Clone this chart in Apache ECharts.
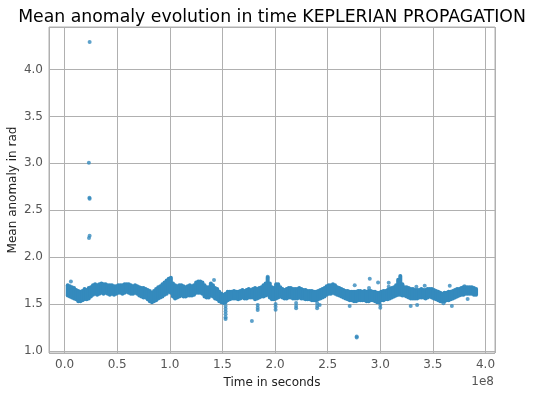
<!DOCTYPE html>
<html>
<head>
<meta charset="utf-8">
<script src="https://cdn.jsdelivr.net/npm/echarts@6/dist/echarts.min.js"></script>
<style>
  html, body { margin: 0; padding: 0; background: #fff; }
  #chart { width: 533px; height: 396px; }
</style>
</head>
<body>
<div id="chart"></div>
<script>
// time in units of 1e8 s, band = spread of mean anomaly (rad) at each time
const bandTime = [
  0.03, 0.05, 0.07, 0.09, 0.11, 0.13, 0.15, 0.17, 0.19, 0.21, 0.23, 0.25, 0.27, 0.29, 0.31, 0.33, 0.35, 0.37, 0.39,
  0.41, 0.43, 0.45, 0.47, 0.49, 0.51, 0.53, 0.55, 0.57, 0.59, 0.61, 0.63, 0.65, 0.67, 0.69, 0.71, 0.73, 0.75, 0.77, 0.79,
  0.81, 0.83, 0.85, 0.87, 0.89, 0.91, 0.93, 0.95, 0.97, 0.99, 1.01, 1.03, 1.05, 1.07, 1.09, 1.11, 1.13, 1.15, 1.17, 1.19,
  1.21, 1.23, 1.25, 1.27, 1.29, 1.31, 1.33, 1.35, 1.37, 1.39, 1.41, 1.43, 1.45, 1.47, 1.49, 1.51, 1.53, 1.55, 1.57, 1.59,
  1.61, 1.63, 1.65, 1.67, 1.69, 1.71, 1.73, 1.75, 1.77, 1.79, 1.81, 1.83, 1.85, 1.87, 1.89, 1.91, 1.93, 1.95, 1.97, 1.99,
  2.01, 2.03, 2.05, 2.07, 2.09, 2.11, 2.13, 2.15, 2.17, 2.19, 2.21, 2.23, 2.25, 2.27, 2.29, 2.31, 2.33, 2.35, 2.37, 2.39,
  2.41, 2.43, 2.45, 2.47, 2.49, 2.51, 2.53, 2.55, 2.57, 2.59, 2.61, 2.63, 2.65, 2.67, 2.69, 2.71, 2.73, 2.75, 2.77, 2.79,
  2.81, 2.83, 2.85, 2.87, 2.89, 2.91, 2.93, 2.95, 2.97, 2.99, 3.01, 3.03, 3.05, 3.07, 3.09, 3.11, 3.13, 3.15, 3.17, 3.19,
  3.21, 3.23, 3.25, 3.27, 3.29, 3.31, 3.33, 3.35, 3.37, 3.39, 3.41, 3.43, 3.45, 3.47, 3.49, 3.51, 3.53, 3.55, 3.57, 3.59,
  3.61, 3.63, 3.65, 3.67, 3.69, 3.71, 3.73, 3.75, 3.77, 3.79, 3.81, 3.83, 3.85, 3.87, 3.89, 3.91
];
const bandLow = [
  1.59, 1.58, 1.57, 1.56, 1.55, 1.53, 1.53, 1.54, 1.55, 1.55, 1.56, 1.58, 1.60, 1.61, 1.60, 1.61, 1.62, 1.61, 1.62,
  1.61, 1.60, 1.61, 1.60, 1.61, 1.62, 1.62, 1.61, 1.62, 1.63, 1.62, 1.61, 1.61, 1.62, 1.61, 1.59, 1.58, 1.57, 1.57, 1.55,
  1.53, 1.52, 1.53, 1.54, 1.56, 1.57, 1.58, 1.60, 1.61, 1.63, 1.62, 1.58, 1.56, 1.57, 1.58, 1.59, 1.58, 1.58, 1.59, 1.59,
  1.59, 1.60, 1.62, 1.62, 1.62, 1.61, 1.58, 1.57, 1.57, 1.59, 1.58, 1.56, 1.55, 1.53, 1.52, 1.51, 1.52, 1.54, 1.55, 1.56,
  1.56, 1.56, 1.55, 1.56, 1.57, 1.56, 1.56, 1.57, 1.57, 1.57, 1.55, 1.56, 1.57, 1.58, 1.58, 1.59, 1.60, 1.57, 1.55, 1.55,
  1.56, 1.57, 1.58, 1.57, 1.56, 1.56, 1.57, 1.57, 1.56, 1.56, 1.56, 1.57, 1.56, 1.56, 1.55, 1.55, 1.55, 1.54, 1.54, 1.54,
  1.55, 1.56, 1.57, 1.58, 1.60, 1.61, 1.61, 1.62, 1.61, 1.60, 1.59, 1.58, 1.57, 1.56, 1.55, 1.54, 1.54, 1.53, 1.53, 1.54,
  1.54, 1.54, 1.54, 1.53, 1.53, 1.54, 1.54, 1.53, 1.52, 1.52, 1.54, 1.54, 1.55, 1.55, 1.56, 1.57, 1.58, 1.59, 1.60, 1.60,
  1.59, 1.59, 1.58, 1.57, 1.56, 1.56, 1.56, 1.56, 1.57, 1.57, 1.57, 1.56, 1.57, 1.58, 1.57, 1.56, 1.55, 1.54, 1.53, 1.53,
  1.53, 1.54, 1.54, 1.55, 1.56, 1.57, 1.58, 1.59, 1.60, 1.60, 1.61, 1.61, 1.61, 1.61, 1.60, 1.60
];
const bandHigh = [
  1.70, 1.69, 1.68, 1.67, 1.65, 1.64, 1.63, 1.64, 1.66, 1.65, 1.67, 1.68, 1.70, 1.71, 1.70, 1.71, 1.72, 1.71, 1.71,
  1.70, 1.70, 1.70, 1.69, 1.69, 1.70, 1.70, 1.70, 1.71, 1.71, 1.71, 1.70, 1.69, 1.70, 1.69, 1.68, 1.67, 1.67, 1.66, 1.65,
  1.64, 1.62, 1.64, 1.66, 1.68, 1.69, 1.71, 1.73, 1.75, 1.77, 1.78, 1.72, 1.70, 1.69, 1.70, 1.70, 1.69, 1.68, 1.69, 1.70,
  1.69, 1.70, 1.73, 1.74, 1.74, 1.73, 1.70, 1.68, 1.68, 1.72, 1.70, 1.67, 1.66, 1.63, 1.61, 1.60, 1.61, 1.63, 1.63, 1.63,
  1.64, 1.63, 1.63, 1.64, 1.65, 1.64, 1.65, 1.66, 1.65, 1.66, 1.67, 1.66, 1.67, 1.68, 1.70, 1.72, 1.78, 1.72, 1.68, 1.67,
  1.71, 1.71, 1.68, 1.66, 1.65, 1.66, 1.67, 1.67, 1.66, 1.66, 1.66, 1.67, 1.66, 1.65, 1.65, 1.64, 1.64, 1.64, 1.63, 1.63,
  1.64, 1.65, 1.66, 1.67, 1.69, 1.70, 1.70, 1.71, 1.70, 1.68, 1.67, 1.66, 1.65, 1.64, 1.64, 1.63, 1.63, 1.63, 1.63, 1.64,
  1.64, 1.63, 1.64, 1.63, 1.64, 1.64, 1.63, 1.63, 1.62, 1.62, 1.63, 1.64, 1.64, 1.65, 1.66, 1.67, 1.68, 1.70, 1.76, 1.80,
  1.71, 1.68, 1.68, 1.67, 1.66, 1.66, 1.65, 1.65, 1.65, 1.66, 1.65, 1.65, 1.66, 1.66, 1.66, 1.65, 1.64, 1.63, 1.62, 1.61,
  1.62, 1.62, 1.63, 1.63, 1.64, 1.65, 1.66, 1.66, 1.67, 1.68, 1.68, 1.68, 1.68, 1.68, 1.67, 1.66
];
// isolated samples away from the main band
const outlierTime = [
  0.06, 0.238, 0.231, 0.236, 0.238, 0.238, 0.232,
  1.42, 1.53, 1.53, 1.53, 1.53, 1.53, 1.53, 1.78, 1.835, 1.835, 1.835, 1.93,
  2.005, 2.005, 2.005, 2.20, 2.20, 2.20, 2.40, 2.40, 2.40, 2.424, 2.709, 2.757, 2.776, 2.776,
  2.893, 2.90, 2.979, 3.0, 3.0, 3.08, 3.08, 3.289, 3.343, 3.35, 3.422, 3.60, 3.66, 3.68, 3.80, 3.83
];
const outlierValue = [
  1.74, 4.294, 3.006, 2.634, 2.622, 2.227, 2.205,
  1.755, 1.34, 1.36, 1.39, 1.42, 1.45, 1.48, 1.319, 1.436, 1.46, 1.49, 1.79,
  1.44, 1.47, 1.50, 1.454, 1.48, 1.51, 1.454, 1.48, 1.51, 1.49, 1.478, 1.70, 1.155, 1.143,
  1.67, 1.77, 1.73, 1.46, 1.49, 1.727, 1.684, 1.48, 1.684, 1.49, 1.695, 1.507, 1.695, 1.478, 1.69, 1.553
];
const xTicks = ['0.0', '0.5', '1.0', '1.5', '2.0', '2.5', '3.0', '3.5', '4.0'];
const yTicks = ['1.0', '1.5', '2.0', '2.5', '3.0', '3.5', '4.0'];

const dotColor = '#348ABD';
const gridColor = '#b0b0b0';
const font = 'DejaVu Sans';

const bandData = bandTime.map((t, i) => [t, bandLow[i], bandHigh[i]]);
const outlierData = outlierTime.map((t, i) => [t, outlierValue[i]]);

const chart = echarts.init(document.getElementById('chart'));

chart.setOption({
  animation: false,
  backgroundColor: '#fff',
  title: {
    text: 'Mean anomaly evolution in time KEPLERIAN PROPAGATION',
    left: 272,
    top: 9,
    padding: 0,
    textAlign: 'center',
    textStyle: { fontFamily: font, fontSize: 17.3, fontWeight: 'normal', color: '#000' },
  },
  grid: {
    left: 49, right: 38, top: 27, bottom: 43,
    outerBoundsMode: 'none',
    show: true, borderColor: gridColor, borderWidth: 1,
  },
  xAxis: {
    type: 'value',
    min: -0.148, max: 4.09,
    splitNumber: 8,
    name: 'Time in seconds',
    nameLocation: 'middle',
    nameGap: 24,
    nameMoveOverlap: false,
    nameTextStyle: { fontFamily: font, fontSize: 12, color: '#222' },
    axisLine: { show: false },
    axisTick: { show: false },
    axisLabel: {
      margin: 6, fontFamily: font, fontSize: 12, color: '#555',
      showMinLabel: false, showMaxLabel: false,
      formatter: (v) => { const s = v.toFixed(1); return xTicks.includes(s) ? s : ''; },
    },
    splitLine: { show: true, lineStyle: { color: gridColor, width: 1 } },
  },
  yAxis: {
    type: 'value',
    min: 0.978, max: 4.453,
    splitNumber: 7,
    name: 'Mean anomaly in rad',
    nameLocation: 'middle',
    nameGap: 30,
    nameMoveOverlap: false,
    nameTextStyle: { fontFamily: font, fontSize: 12, color: '#222' },
    axisLine: { show: false },
    axisTick: { show: false },
    axisLabel: {
      margin: 6, fontFamily: font, fontSize: 12, color: '#555',
      showMinLabel: false, showMaxLabel: false,
      formatter: (v) => { const s = v.toFixed(1); return yTicks.includes(s) ? s : ''; },
    },
    splitLine: { show: true, lineStyle: { color: gridColor, width: 1 } },
  },
  graphic: [{
    type: 'text',
    right: 39,
    top: 376,
    style: { text: '1e8', fontFamily: font, fontSize: 12, fill: '#555' },
  }],
  series: [
    {
      name: 'band',
      type: 'custom',
      data: bandData,
      renderItem: (params, api) => {
        const top = api.coord([api.value(0), api.value(2)]);
        const bottom = api.coord([api.value(0), api.value(1)]);
        return {
          type: 'rect',
          shape: { x: top[0] - 2, y: top[1] - 2, width: 4, height: bottom[1] - top[1] + 4, r: 2 },
          style: { fill: dotColor },
        };
      },
    },
    {
      name: 'outliers',
      type: 'scatter',
      data: outlierData,
      symbolSize: 4,
      itemStyle: { color: dotColor },
    },
  ],
});
</script>
</body>
</html>
